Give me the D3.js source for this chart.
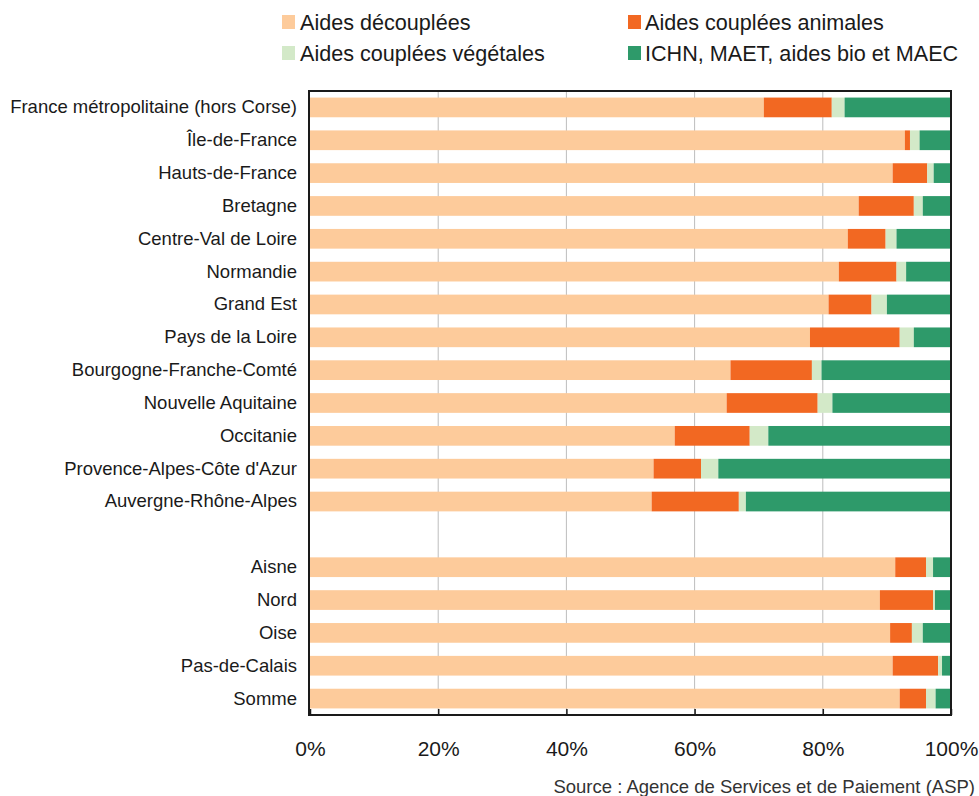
<!DOCTYPE html>
<html><head><meta charset="utf-8">
<script src="https://cdn.jsdelivr.net/npm/d3@7"></script>
<style>body{margin:0;background:#fff;font-family:"Liberation Sans",Arial,sans-serif;}</style>
</head><body>
<svg id="c" width="979" height="796"></svg>
<script>
const categories = ["France métropolitaine (hors Corse)","Île-de-France","Hauts-de-France","Bretagne","Centre-Val de Loire","Normandie","Grand Est","Pays de la Loire","Bourgogne-Franche-Comté","Nouvelle Aquitaine","Occitanie","Provence-Alpes-Côte d'Azur","Auvergne-Rhône-Alpes","","Aisne","Nord","Oise","Pas-de-Calais","Somme"];
const seriesNames = ["Aides découplées","Aides couplées animales","Aides couplées végétales","ICHN, MAET, aides bio et MAEC"];
const decouplees = [70.8,92.8,90.9,85.6,83.9,82.5,80.9,78.0,65.6,65.0,56.9,53.6,53.3,null,91.3,88.9,90.5,90.9,92.0];
const animales   = [10.6,0.8,5.4,8.6,5.9,9.0,6.7,14.0,12.7,14.2,11.7,7.4,13.6,null,4.8,8.3,3.4,7.1,4.1];
const vegetales  = [2.0,1.5,1.0,1.4,1.7,1.5,2.4,2.2,1.5,2.3,2.9,2.7,1.1,null,1.1,0.3,1.7,0.6,1.5];
const ichn       = [16.6,4.9,2.7,4.4,8.5,7.0,10.0,5.8,20.2,18.5,28.5,36.3,32.0,null,2.8,2.5,4.4,1.4,2.4];
const xTicks = [0,20,40,60,80,100];
const colors = ["#FDCB9B","#F26822","#D3E9C8","#2E9A6A"];

(function(){
const svg = d3.select("#c");
const pL = 310, pR = 951, pT = 91, pB = 715;
const keys = ["d","a","v","i"];
const rows = categories.map((c,i)=>({id:i, cat:c, d:decouplees[i], a:animales[i], v:vegetales[i], i:ichn[i]}));
const x = d3.scaleLinear().domain([0,100]).range([pL,pR]);
const y = d3.scaleBand().domain(rows.map(r=>r.id)).range([pT,pB]).paddingInner(0.4).paddingOuter(0.2);

svg.append("g").selectAll("line").data(xTicks.slice(1,-1)).join("line")
  .attr("x1",d=>x(d)).attr("x2",d=>x(d)).attr("y1",pT).attr("y2",pB)
  .attr("stroke","#bdbdbd").attr("stroke-width",1);

const stack = d3.stack().keys(keys).value((d,k)=>d[k]||0);
const stacked = stack(rows.filter(r=>r.d!=null));
svg.append("g").selectAll("g").data(stacked).join("g")
  .attr("fill",(d,i)=>colors[i])
  .selectAll("rect").data(d=>d).join("rect")
  .attr("x",d=>x(d[0])).attr("width",d=>x(d[1])-x(d[0]))
  .attr("y",d=>y(d.data.id)).attr("height",y.bandwidth());

svg.append("rect").attr("x",pL-1).attr("y",pT).attr("width",pR-pL+1).attr("height",pB-pT)
  .attr("fill","none").attr("stroke","#1a1a1a").attr("stroke-width",2);

const xa = svg.append("g").attr("transform",`translate(0,${pB})`)
  .call(d3.axisBottom(x).tickValues(xTicks).tickFormat(d=>d+"%").tickSizeInner(-6).tickSizeOuter(0).tickPadding(26));
xa.select(".domain").remove();
xa.selectAll("line").attr("stroke","#1a1a1a").attr("stroke-width",1.5);
xa.selectAll("text").attr("font-size","21px").attr("fill","#1a1a1a").attr("font-family","Liberation Sans, Arial, sans-serif");

const ya = svg.append("g").attr("transform",`translate(${pL},0)`)
  .call(d3.axisLeft(y).tickFormat(i=>categories[i]).tickSize(0).tickPadding(13));
ya.select(".domain").remove();
ya.selectAll("text").attr("font-size","18.5px").attr("fill","#1a1a1a").attr("font-family","Liberation Sans, Arial, sans-serif");

const legPos = [[282,22],[628,22],[282,53],[628,53]];
const lg = svg.append("g").selectAll("g").data(seriesNames).join("g")
  .attr("transform",(d,i)=>`translate(${legPos[i][0]},${legPos[i][1]})`);
lg.append("rect").attr("x",0).attr("y",-7).attr("width",13).attr("height",14).attr("fill",(d,i)=>colors[i]);
lg.append("text").attr("x",(d,i)=>i%2===0?18:17).attr("y",8).attr("font-size","21.6px").attr("fill","#1a1a1a").text(d=>d);

svg.append("text").attr("x",975).attr("y",793).attr("text-anchor","end").attr("font-size","18.5px").attr("fill","#333")
  .text("Source : Agence de Services et de Paiement (ASP)");
})();
</script>
</body></html>
